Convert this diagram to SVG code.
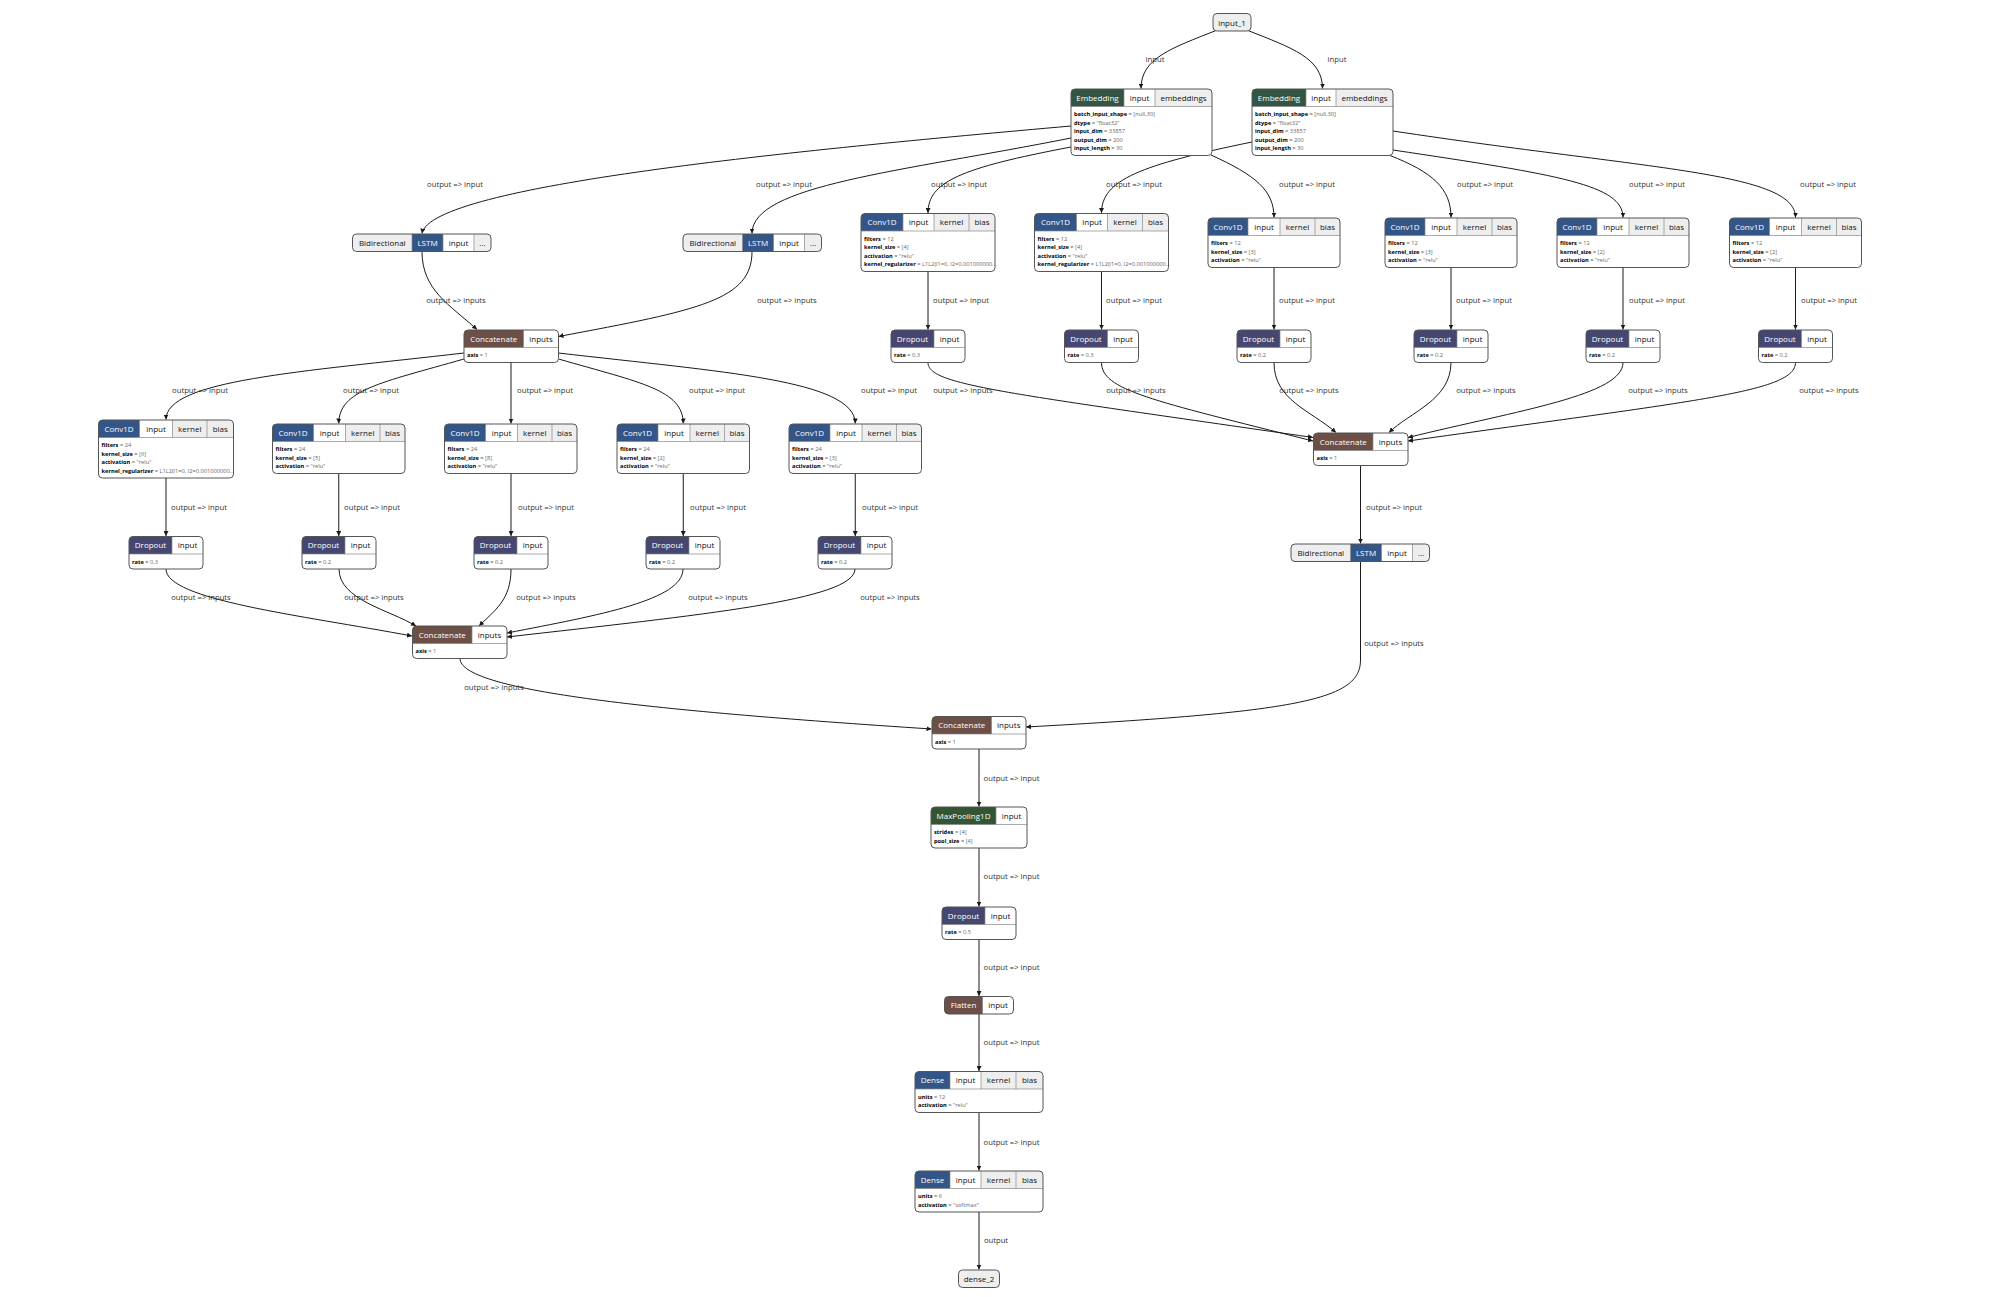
<svg xmlns="http://www.w3.org/2000/svg" width="2000" height="1297" viewBox="0 0 2000 1297">
<defs>
<marker id="ah" viewBox="0 0 10 10" refX="10" refY="5" markerWidth="5" markerHeight="5" markerUnits="userSpaceOnUse" orient="auto">
<path d="M0,0L10,5L0,10Z" fill="#1a1a1a"/>
</marker>
<style>
.e{fill:none;stroke:#1a1a1a;stroke-width:1;marker-end:url(#ah)}
.l{font-family:"Open Sans","Noto Sans",sans-serif;font-size:7.7px;fill:#333;text-anchor:middle}
.bd{fill:#fff}
.ol{fill:none;stroke:#555;stroke-width:1}
.sp{fill:none;stroke:#888;stroke-width:0.7}
.h{font-family:"Open Sans","Noto Sans",sans-serif;font-size:8px;text-anchor:middle;fill:#111}
.hw{fill:#fff}
.gy{fill:#eee}
.lay{fill:#335588}
.dro{fill:#454770}
.ten{fill:#6c4f47}
.emb{fill:#335544}
.pool{fill:#335533}
.a{font-family:"Open Sans","Noto Sans",sans-serif;font-size:5.7px;fill:#000}
.k{font-weight:bold}
.v{fill:#666}
</style>
</defs>
<rect x="0" y="0" width="2000" height="1297" fill="#fff"/>

<g id="edges">
<path class="e" d="M1216,30.5C1172,48 1141,58 1141,88.5"/>
<path class="e" d="M1248,30.5C1292,48 1322.5,58 1322.5,88.5"/>
<path class="e" d="M1071,126C800,150 430,185 422,233.5"/>
<path class="e" d="M1071,138C900,172 752,185 752,233.5"/>
<path class="e" d="M1071,147C960,168 928,182 928,213"/>
<path class="e" d="M1252,142C1140,165 1101.5,180 1101.5,213"/>
<path class="e" d="M1211,155C1255,175 1274,190 1274,217.5"/>
<path class="e" d="M1390,155.5C1432,172 1451,188 1451,217.5"/>
<path class="e" d="M1393,150C1560,175 1623,185 1623,217.5"/>
<path class="e" d="M1393,131C1650,170 1795.5,172 1795.5,217.5"/>
<path class="e" d="M928,271.5V329.5"/>
<path class="e" d="M1101.5,271.5V329.5"/>
<path class="e" d="M1274,267.5V329.5"/>
<path class="e" d="M1451,267.5V329.5"/>
<path class="e" d="M1623,267.5V329.5"/>
<path class="e" d="M1795.5,267.5V329.5"/>
<path class="e" d="M928,362.5C928,385 1000,392 1313,437.5"/>
<path class="e" d="M1101.5,362.5C1101.5,390 1150,400 1313,441"/>
<path class="e" d="M1274,362.5C1274,400 1310,410 1336,432.5"/>
<path class="e" d="M1451,362.5C1451,400 1410,412 1389,432.5"/>
<path class="e" d="M1623,362.5C1623,395 1520,410 1408,437.5"/>
<path class="e" d="M1795.5,362.5C1795.5,392 1700,400 1408,441"/>
<path class="e" d="M1360.5,465.5V543.5"/>
<path class="e" d="M1360.5,561.5V660C1360.5,700 1300,712 1026,727"/>
<path class="e" d="M422,251.5C422,290 450,305 477,329.5"/>
<path class="e" d="M752,251.5C752,300 700,310 558.5,336.5"/>
<path class="e" d="M464,353C300,372 166,380 166,419.5"/>
<path class="e" d="M464,359C380,383 339,390 338.75,423.5"/>
<path class="e" d="M511,362.5V423.5"/>
<path class="e" d="M558.5,359C642,383 683,390 683.25,423.5"/>
<path class="e" d="M558.5,353C722,372 855,380 855.25,423.5"/>
<path class="e" d="M166,478V536"/>
<path class="e" d="M338.75,473.5V536"/>
<path class="e" d="M511,473.5V536"/>
<path class="e" d="M683.25,473.5V536"/>
<path class="e" d="M855.25,473.5V536"/>
<path class="e" d="M166,569C166,600 300,615 412,636"/>
<path class="e" d="M339,569C339,600 390,610 416,626"/>
<path class="e" d="M511,569C511,600 495,610 479,626"/>
<path class="e" d="M683,569C683,600 600,615 507,633"/>
<path class="e" d="M855,569C855,600 700,615 507,637"/>
<path class="e" d="M460,658.5C460,690 640,710 931.5,729"/>
<path class="e" d="M979,749V806.5"/>
<path class="e" d="M979,848V906.5"/>
<path class="e" d="M979,939.5V996"/>
<path class="e" d="M979,1014V1071"/>
<path class="e" d="M979,1112.5V1170.5"/>
<path class="e" d="M979,1212V1269.5"/>
</g>

<g id="edge-labels">
<text class="l" x="1155" y="62">input</text>
<text class="l" x="1337" y="62">input</text>
<text class="l" x="455" y="186.5">output =&gt; input</text>
<text class="l" x="784" y="186.5">output =&gt; input</text>
<text class="l" x="959" y="186.5">output =&gt; input</text>
<text class="l" x="1134" y="186.5">output =&gt; input</text>
<text class="l" x="1307" y="186.5">output =&gt; input</text>
<text class="l" x="1485" y="186.5">output =&gt; input</text>
<text class="l" x="1657" y="186.5">output =&gt; input</text>
<text class="l" x="1828" y="186.5">output =&gt; input</text>
<text class="l" x="456" y="302.5">output =&gt; inputs</text>
<text class="l" x="787" y="302.5">output =&gt; inputs</text>
<text class="l" x="961" y="302.5">output =&gt; input</text>
<text class="l" x="1134" y="302.5">output =&gt; input</text>
<text class="l" x="1307" y="302.5">output =&gt; input</text>
<text class="l" x="1484" y="302.5">output =&gt; input</text>
<text class="l" x="1657" y="302.5">output =&gt; input</text>
<text class="l" x="1829" y="302.5">output =&gt; input</text>
<text class="l" x="963" y="393">output =&gt; inputs</text>
<text class="l" x="1136" y="393">output =&gt; inputs</text>
<text class="l" x="1309" y="393">output =&gt; inputs</text>
<text class="l" x="1486" y="393">output =&gt; inputs</text>
<text class="l" x="1658" y="393">output =&gt; inputs</text>
<text class="l" x="1829" y="393">output =&gt; inputs</text>
<text class="l" x="200" y="393">output =&gt; input</text>
<text class="l" x="371" y="393">output =&gt; input</text>
<text class="l" x="545" y="393">output =&gt; input</text>
<text class="l" x="717" y="393">output =&gt; input</text>
<text class="l" x="889" y="393">output =&gt; input</text>
<text class="l" x="199" y="509.5">output =&gt; input</text>
<text class="l" x="372" y="509.5">output =&gt; input</text>
<text class="l" x="546" y="509.5">output =&gt; input</text>
<text class="l" x="718" y="509.5">output =&gt; input</text>
<text class="l" x="890" y="509.5">output =&gt; input</text>
<text class="l" x="1394" y="509.5">output =&gt; input</text>
<text class="l" x="201" y="600">output =&gt; inputs</text>
<text class="l" x="374" y="600">output =&gt; inputs</text>
<text class="l" x="546" y="600">output =&gt; inputs</text>
<text class="l" x="718" y="600">output =&gt; inputs</text>
<text class="l" x="890" y="600">output =&gt; inputs</text>
<text class="l" x="1394" y="645.5">output =&gt; inputs</text>
<text class="l" x="494" y="690">output =&gt; inputs</text>
<text class="l" x="1011.5" y="780.5">output =&gt; input</text>
<text class="l" x="1011.5" y="879">output =&gt; input</text>
<text class="l" x="1011.5" y="970">output =&gt; input</text>
<text class="l" x="1011.5" y="1045">output =&gt; input</text>
<text class="l" x="1011.5" y="1144.5">output =&gt; input</text>
<text class="l" x="996" y="1243">output</text>
</g>

<g id="input_1">
<rect class="gy" x="1213" y="13.5" width="38" height="17.5" rx="4"/>
<rect class="ol" x="1213" y="13.5" width="38" height="17.5" rx="4"/>
<text class="h" x="1232" y="25.5">input_1</text>
</g>

<g id="embedding_1">
<rect class="bd" x="1071" y="89" width="141" height="66.5" rx="4"/>
<path class="emb" d="M1071,106.5V93Q1071,89 1075,89H1124V106.5Z"/>
<path class="gy" d="M1155,89H1208Q1212,89 1212,93V106.5H1155Z"/>
<path class="sp" d="M1124,89V106.5M1155,89V106.5M1071,106.5H1212"/>
<rect class="ol" x="1071" y="89" width="141" height="66.5" rx="4"/>
<text class="h hw" x="1097.5" y="100.5">Embedding</text>
<text class="h" x="1139.5" y="100.5">input</text>
<text class="h" x="1183.5" y="100.5">embeddings</text>
<text class="a" x="1074" y="116"><tspan class="k">batch_input_shape</tspan><tspan class="v"> = [null,30]</tspan></text>
<text class="a" x="1074" y="124.5"><tspan class="k">dtype</tspan><tspan class="v"> = "float32"</tspan></text>
<text class="a" x="1074" y="133"><tspan class="k">input_dim</tspan><tspan class="v"> = 33857</tspan></text>
<text class="a" x="1074" y="141.5"><tspan class="k">output_dim</tspan><tspan class="v"> = 200</tspan></text>
<text class="a" x="1074" y="150"><tspan class="k">input_length</tspan><tspan class="v"> = 30</tspan></text>
</g>

<g id="embedding_2">
<rect class="bd" x="1252" y="89" width="141" height="66.5" rx="4"/>
<path class="emb" d="M1252,106.5V93Q1252,89 1256,89H1306V106.5Z"/>
<path class="gy" d="M1336,89H1389Q1393,89 1393,93V106.5H1336Z"/>
<path class="sp" d="M1306,89V106.5M1336,89V106.5M1252,106.5H1393"/>
<rect class="ol" x="1252" y="89" width="141" height="66.5" rx="4"/>
<text class="h hw" x="1279" y="100.5">Embedding</text>
<text class="h" x="1321" y="100.5">input</text>
<text class="h" x="1364.5" y="100.5">embeddings</text>
<text class="a" x="1255" y="116"><tspan class="k">batch_input_shape</tspan><tspan class="v"> = [null,30]</tspan></text>
<text class="a" x="1255" y="124.5"><tspan class="k">dtype</tspan><tspan class="v"> = "float32"</tspan></text>
<text class="a" x="1255" y="133"><tspan class="k">input_dim</tspan><tspan class="v"> = 33857</tspan></text>
<text class="a" x="1255" y="141.5"><tspan class="k">output_dim</tspan><tspan class="v"> = 200</tspan></text>
<text class="a" x="1255" y="150"><tspan class="k">input_length</tspan><tspan class="v"> = 30</tspan></text>
</g>

<g id="bidirectional_1">
<rect class="bd" x="352.5" y="234" width="138.5" height="17.5" rx="4"/>
<path class="gy" d="M356.5,251.5Q352.5,251.5 352.5,247.5V238Q352.5,234 356.5,234H412V251.5Z"/>
<rect class="lay" x="412" y="234" width="31" height="17.5"/>
<path class="gy" d="M474,234H487Q491,234 491,238V247.5Q491,251.5 487,251.5H474Z"/>
<path class="sp" d="M412,234V251.5M443,234V251.5M474,234V251.5"/>
<rect class="ol" x="352.5" y="234" width="138.5" height="17.5" rx="4"/>
<text class="h" x="382.25" y="245.5">Bidirectional</text>
<text class="h hw" x="427.5" y="245.5">LSTM</text>
<text class="h" x="458.5" y="245.5">input</text>
<text class="h" x="482.5" y="245.5">...</text>
</g>

<g id="bidirectional_2">
<rect class="bd" x="683" y="234" width="138.5" height="17.5" rx="4"/>
<path class="gy" d="M687,251.5Q683,251.5 683,247.5V238Q683,234 687,234H742.5V251.5Z"/>
<rect class="lay" x="742.5" y="234" width="31" height="17.5"/>
<path class="gy" d="M804.5,234H817.5Q821.5,234 821.5,238V247.5Q821.5,251.5 817.5,251.5H804.5Z"/>
<path class="sp" d="M742.5,234V251.5M773.5,234V251.5M804.5,234V251.5"/>
<rect class="ol" x="683" y="234" width="138.5" height="17.5" rx="4"/>
<text class="h" x="712.75" y="245.5">Bidirectional</text>
<text class="h hw" x="758" y="245.5">LSTM</text>
<text class="h" x="789" y="245.5">input</text>
<text class="h" x="813" y="245.5">...</text>
</g>

<g id="bidirectional_3">
<rect class="bd" x="1291" y="544" width="138.5" height="17.5" rx="4"/>
<path class="gy" d="M1295,561.5Q1291,561.5 1291,557.5V548Q1291,544 1295,544H1350.5V561.5Z"/>
<rect class="lay" x="1350.5" y="544" width="31" height="17.5"/>
<path class="gy" d="M1412.5,544H1425.5Q1429.5,544 1429.5,548V557.5Q1429.5,561.5 1425.5,561.5H1412.5Z"/>
<path class="sp" d="M1350.5,544V561.5M1381.5,544V561.5M1412.5,544V561.5"/>
<rect class="ol" x="1291" y="544" width="138.5" height="17.5" rx="4"/>
<text class="h" x="1320.75" y="555.5">Bidirectional</text>
<text class="h hw" x="1366" y="555.5">LSTM</text>
<text class="h" x="1397" y="555.5">input</text>
<text class="h" x="1421" y="555.5">...</text>
</g>

<g id="concatenate_1">
<rect class="bd" x="464" y="330" width="94.5" height="32.5" rx="4"/>
<path class="ten" d="M464,347.5V334Q464,330 468,330H523.5V347.5Z"/>
<path class="sp" d="M523.5,330V347.5M464,347.5H558.5"/>
<rect class="ol" x="464" y="330" width="94.5" height="32.5" rx="4"/>
<text class="h hw" x="493.75" y="341.5">Concatenate</text>
<text class="h" x="541" y="341.5">inputs</text>
<text class="a" x="467" y="357"><tspan class="k">axis</tspan><tspan class="v"> = 1</tspan></text>
</g>

<g id="concatenate_2">
<rect class="bd" x="1313.5" y="433" width="94.5" height="32.5" rx="4"/>
<path class="ten" d="M1313.5,450.5V437Q1313.5,433 1317.5,433H1373V450.5Z"/>
<path class="sp" d="M1373,433V450.5M1313.5,450.5H1408"/>
<rect class="ol" x="1313.5" y="433" width="94.5" height="32.5" rx="4"/>
<text class="h hw" x="1343.25" y="444.5">Concatenate</text>
<text class="h" x="1390.5" y="444.5">inputs</text>
<text class="a" x="1316.5" y="460"><tspan class="k">axis</tspan><tspan class="v"> = 1</tspan></text>
</g>

<g id="concatenate_3">
<rect class="bd" x="412.5" y="626" width="94.5" height="32.5" rx="4"/>
<path class="ten" d="M412.5,643.5V630Q412.5,626 416.5,626H472V643.5Z"/>
<path class="sp" d="M472,626V643.5M412.5,643.5H507"/>
<rect class="ol" x="412.5" y="626" width="94.5" height="32.5" rx="4"/>
<text class="h hw" x="442.25" y="637.5">Concatenate</text>
<text class="h" x="489.5" y="637.5">inputs</text>
<text class="a" x="415.5" y="653"><tspan class="k">axis</tspan><tspan class="v"> = 1</tspan></text>
</g>

<g id="concatenate_4">
<rect class="bd" x="932" y="716.5" width="94" height="32.5" rx="4"/>
<path class="ten" d="M932,734V720.5Q932,716.5 936,716.5H991.5V734Z"/>
<path class="sp" d="M991.5,716.5V734M932,734H1026"/>
<rect class="ol" x="932" y="716.5" width="94" height="32.5" rx="4"/>
<text class="h hw" x="961.75" y="728">Concatenate</text>
<text class="h" x="1008.75" y="728">inputs</text>
<text class="a" x="935" y="743.5"><tspan class="k">axis</tspan><tspan class="v"> = 1</tspan></text>
</g>

<g id="conv1d_a">
<rect class="bd" x="861" y="213.5" width="134" height="58" rx="4"/>
<path class="lay" d="M861,231V217.5Q861,213.5 865,213.5H903V231Z"/>
<rect class="gy" x="934" y="213.5" width="35" height="17.5"/>
<path class="gy" d="M969,213.5H991Q995,213.5 995,217.5V231H969Z"/>
<path class="sp" d="M903,213.5V231M934,213.5V231M969,213.5V231M861,231H995"/>
<rect class="ol" x="861" y="213.5" width="134" height="58" rx="4"/>
<text class="h hw" x="882" y="225">Conv1D</text>
<text class="h" x="918.5" y="225">input</text>
<text class="h" x="951.5" y="225">kernel</text>
<text class="h" x="982" y="225">bias</text>
<text class="a" x="864" y="240.5"><tspan class="k">filters</tspan><tspan class="v"> = 12</tspan></text>
<text class="a" x="864" y="249"><tspan class="k">kernel_size</tspan><tspan class="v"> = [4]</tspan></text>
<text class="a" x="864" y="257.5"><tspan class="k">activation</tspan><tspan class="v"> = "relu"</tspan></text>
<text class="a" x="864" y="266"><tspan class="k">kernel_regularizer</tspan><tspan class="v"> = L1L2(l1=0, l2=0.001000000...</tspan></text>
</g>

<g id="conv1d_b">
<rect class="bd" x="1034.5" y="213.5" width="134" height="58" rx="4"/>
<path class="lay" d="M1034.5,231V217.5Q1034.5,213.5 1038.5,213.5H1076.5V231Z"/>
<rect class="gy" x="1107.5" y="213.5" width="35" height="17.5"/>
<path class="gy" d="M1142.5,213.5H1164.5Q1168.5,213.5 1168.5,217.5V231H1142.5Z"/>
<path class="sp" d="M1076.5,213.5V231M1107.5,213.5V231M1142.5,213.5V231M1034.5,231H1168.5"/>
<rect class="ol" x="1034.5" y="213.5" width="134" height="58" rx="4"/>
<text class="h hw" x="1055.5" y="225">Conv1D</text>
<text class="h" x="1092" y="225">input</text>
<text class="h" x="1125" y="225">kernel</text>
<text class="h" x="1155.5" y="225">bias</text>
<text class="a" x="1037.5" y="240.5"><tspan class="k">filters</tspan><tspan class="v"> = 12</tspan></text>
<text class="a" x="1037.5" y="249"><tspan class="k">kernel_size</tspan><tspan class="v"> = [4]</tspan></text>
<text class="a" x="1037.5" y="257.5"><tspan class="k">activation</tspan><tspan class="v"> = "relu"</tspan></text>
<text class="a" x="1037.5" y="266"><tspan class="k">kernel_regularizer</tspan><tspan class="v"> = L1L2(l1=0, l2=0.001000000...</tspan></text>
</g>

<g id="conv1d_c">
<rect class="bd" x="1208" y="218" width="132" height="49.5" rx="4"/>
<path class="lay" d="M1208,235.5V222Q1208,218 1212,218H1248V235.5Z"/>
<rect class="gy" x="1280" y="218" width="35" height="17.5"/>
<path class="gy" d="M1315,218H1336Q1340,218 1340,222V235.5H1315Z"/>
<path class="sp" d="M1248,218V235.5M1280,218V235.5M1315,218V235.5M1208,235.5H1340"/>
<rect class="ol" x="1208" y="218" width="132" height="49.5" rx="4"/>
<text class="h hw" x="1228" y="229.5">Conv1D</text>
<text class="h" x="1264" y="229.5">input</text>
<text class="h" x="1297.5" y="229.5">kernel</text>
<text class="h" x="1327.5" y="229.5">bias</text>
<text class="a" x="1211" y="245"><tspan class="k">filters</tspan><tspan class="v"> = 12</tspan></text>
<text class="a" x="1211" y="253.5"><tspan class="k">kernel_size</tspan><tspan class="v"> = [3]</tspan></text>
<text class="a" x="1211" y="262"><tspan class="k">activation</tspan><tspan class="v"> = "relu"</tspan></text>
</g>

<g id="conv1d_d">
<rect class="bd" x="1385" y="218" width="132" height="49.5" rx="4"/>
<path class="lay" d="M1385,235.5V222Q1385,218 1389,218H1425V235.5Z"/>
<rect class="gy" x="1457" y="218" width="35" height="17.5"/>
<path class="gy" d="M1492,218H1513Q1517,218 1517,222V235.5H1492Z"/>
<path class="sp" d="M1425,218V235.5M1457,218V235.5M1492,218V235.5M1385,235.5H1517"/>
<rect class="ol" x="1385" y="218" width="132" height="49.5" rx="4"/>
<text class="h hw" x="1405" y="229.5">Conv1D</text>
<text class="h" x="1441" y="229.5">input</text>
<text class="h" x="1474.5" y="229.5">kernel</text>
<text class="h" x="1504.5" y="229.5">bias</text>
<text class="a" x="1388" y="245"><tspan class="k">filters</tspan><tspan class="v"> = 12</tspan></text>
<text class="a" x="1388" y="253.5"><tspan class="k">kernel_size</tspan><tspan class="v"> = [3]</tspan></text>
<text class="a" x="1388" y="262"><tspan class="k">activation</tspan><tspan class="v"> = "relu"</tspan></text>
</g>

<g id="conv1d_e">
<rect class="bd" x="1557" y="218" width="132" height="49.5" rx="4"/>
<path class="lay" d="M1557,235.5V222Q1557,218 1561,218H1597V235.5Z"/>
<rect class="gy" x="1629" y="218" width="35" height="17.5"/>
<path class="gy" d="M1664,218H1685Q1689,218 1689,222V235.5H1664Z"/>
<path class="sp" d="M1597,218V235.5M1629,218V235.5M1664,218V235.5M1557,235.5H1689"/>
<rect class="ol" x="1557" y="218" width="132" height="49.5" rx="4"/>
<text class="h hw" x="1577" y="229.5">Conv1D</text>
<text class="h" x="1613" y="229.5">input</text>
<text class="h" x="1646.5" y="229.5">kernel</text>
<text class="h" x="1676.5" y="229.5">bias</text>
<text class="a" x="1560" y="245"><tspan class="k">filters</tspan><tspan class="v"> = 12</tspan></text>
<text class="a" x="1560" y="253.5"><tspan class="k">kernel_size</tspan><tspan class="v"> = [2]</tspan></text>
<text class="a" x="1560" y="262"><tspan class="k">activation</tspan><tspan class="v"> = "relu"</tspan></text>
</g>

<g id="conv1d_f">
<rect class="bd" x="1729.5" y="218" width="132" height="49.5" rx="4"/>
<path class="lay" d="M1729.5,235.5V222Q1729.5,218 1733.5,218H1769.5V235.5Z"/>
<rect class="gy" x="1801.5" y="218" width="35" height="17.5"/>
<path class="gy" d="M1836.5,218H1857.5Q1861.5,218 1861.5,222V235.5H1836.5Z"/>
<path class="sp" d="M1769.5,218V235.5M1801.5,218V235.5M1836.5,218V235.5M1729.5,235.5H1861.5"/>
<rect class="ol" x="1729.5" y="218" width="132" height="49.5" rx="4"/>
<text class="h hw" x="1749.5" y="229.5">Conv1D</text>
<text class="h" x="1785.5" y="229.5">input</text>
<text class="h" x="1819" y="229.5">kernel</text>
<text class="h" x="1849" y="229.5">bias</text>
<text class="a" x="1732.5" y="245"><tspan class="k">filters</tspan><tspan class="v"> = 12</tspan></text>
<text class="a" x="1732.5" y="253.5"><tspan class="k">kernel_size</tspan><tspan class="v"> = [2]</tspan></text>
<text class="a" x="1732.5" y="262"><tspan class="k">activation</tspan><tspan class="v"> = "relu"</tspan></text>
</g>

<g id="conv1d_g">
<rect class="bd" x="98.5" y="420" width="135" height="58" rx="4"/>
<path class="lay" d="M98.5,437.5V424Q98.5,420 102.5,420H139.5V437.5Z"/>
<rect class="gy" x="172.5" y="420" width="34.5" height="17.5"/>
<path class="gy" d="M207,420H229.5Q233.5,420 233.5,424V437.5H207Z"/>
<path class="sp" d="M139.5,420V437.5M172.5,420V437.5M207,420V437.5M98.5,437.5H233.5"/>
<rect class="ol" x="98.5" y="420" width="135" height="58" rx="4"/>
<text class="h hw" x="119" y="431.5">Conv1D</text>
<text class="h" x="156" y="431.5">input</text>
<text class="h" x="189.75" y="431.5">kernel</text>
<text class="h" x="220.25" y="431.5">bias</text>
<text class="a" x="101.5" y="447"><tspan class="k">filters</tspan><tspan class="v"> = 24</tspan></text>
<text class="a" x="101.5" y="455.5"><tspan class="k">kernel_size</tspan><tspan class="v"> = [6]</tspan></text>
<text class="a" x="101.5" y="464"><tspan class="k">activation</tspan><tspan class="v"> = "relu"</tspan></text>
<text class="a" x="101.5" y="472.5"><tspan class="k">kernel_regularizer</tspan><tspan class="v"> = L1L2(l1=0, l2=0.001000000...</tspan></text>
</g>

<g id="conv1d_h">
<rect class="bd" x="272.5" y="424" width="132.5" height="49.5" rx="4"/>
<path class="lay" d="M272.5,441.5V428Q272.5,424 276.5,424H313.5V441.5Z"/>
<rect class="gy" x="345.5" y="424" width="34.5" height="17.5"/>
<path class="gy" d="M380,424H401Q405,424 405,428V441.5H380Z"/>
<path class="sp" d="M313.5,424V441.5M345.5,424V441.5M380,424V441.5M272.5,441.5H405"/>
<rect class="ol" x="272.5" y="424" width="132.5" height="49.5" rx="4"/>
<text class="h hw" x="293" y="435.5">Conv1D</text>
<text class="h" x="329.5" y="435.5">input</text>
<text class="h" x="362.75" y="435.5">kernel</text>
<text class="h" x="392.5" y="435.5">bias</text>
<text class="a" x="275.5" y="451"><tspan class="k">filters</tspan><tspan class="v"> = 24</tspan></text>
<text class="a" x="275.5" y="459.5"><tspan class="k">kernel_size</tspan><tspan class="v"> = [5]</tspan></text>
<text class="a" x="275.5" y="468"><tspan class="k">activation</tspan><tspan class="v"> = "relu"</tspan></text>
</g>

<g id="conv1d_i">
<rect class="bd" x="444.5" y="424" width="132.5" height="49.5" rx="4"/>
<path class="lay" d="M444.5,441.5V428Q444.5,424 448.5,424H485.5V441.5Z"/>
<rect class="gy" x="517.5" y="424" width="34.5" height="17.5"/>
<path class="gy" d="M552,424H573Q577,424 577,428V441.5H552Z"/>
<path class="sp" d="M485.5,424V441.5M517.5,424V441.5M552,424V441.5M444.5,441.5H577"/>
<rect class="ol" x="444.5" y="424" width="132.5" height="49.5" rx="4"/>
<text class="h hw" x="465" y="435.5">Conv1D</text>
<text class="h" x="501.5" y="435.5">input</text>
<text class="h" x="534.75" y="435.5">kernel</text>
<text class="h" x="564.5" y="435.5">bias</text>
<text class="a" x="447.5" y="451"><tspan class="k">filters</tspan><tspan class="v"> = 24</tspan></text>
<text class="a" x="447.5" y="459.5"><tspan class="k">kernel_size</tspan><tspan class="v"> = [8]</tspan></text>
<text class="a" x="447.5" y="468"><tspan class="k">activation</tspan><tspan class="v"> = "relu"</tspan></text>
</g>

<g id="conv1d_j">
<rect class="bd" x="617" y="424" width="132.5" height="49.5" rx="4"/>
<path class="lay" d="M617,441.5V428Q617,424 621,424H658V441.5Z"/>
<rect class="gy" x="690" y="424" width="34.5" height="17.5"/>
<path class="gy" d="M724.5,424H745.5Q749.5,424 749.5,428V441.5H724.5Z"/>
<path class="sp" d="M658,424V441.5M690,424V441.5M724.5,424V441.5M617,441.5H749.5"/>
<rect class="ol" x="617" y="424" width="132.5" height="49.5" rx="4"/>
<text class="h hw" x="637.5" y="435.5">Conv1D</text>
<text class="h" x="674" y="435.5">input</text>
<text class="h" x="707.25" y="435.5">kernel</text>
<text class="h" x="737" y="435.5">bias</text>
<text class="a" x="620" y="451"><tspan class="k">filters</tspan><tspan class="v"> = 24</tspan></text>
<text class="a" x="620" y="459.5"><tspan class="k">kernel_size</tspan><tspan class="v"> = [2]</tspan></text>
<text class="a" x="620" y="468"><tspan class="k">activation</tspan><tspan class="v"> = "relu"</tspan></text>
</g>

<g id="conv1d_k">
<rect class="bd" x="789" y="424" width="132.5" height="49.5" rx="4"/>
<path class="lay" d="M789,441.5V428Q789,424 793,424H830V441.5Z"/>
<rect class="gy" x="862" y="424" width="34.5" height="17.5"/>
<path class="gy" d="M896.5,424H917.5Q921.5,424 921.5,428V441.5H896.5Z"/>
<path class="sp" d="M830,424V441.5M862,424V441.5M896.5,424V441.5M789,441.5H921.5"/>
<rect class="ol" x="789" y="424" width="132.5" height="49.5" rx="4"/>
<text class="h hw" x="809.5" y="435.5">Conv1D</text>
<text class="h" x="846" y="435.5">input</text>
<text class="h" x="879.25" y="435.5">kernel</text>
<text class="h" x="909" y="435.5">bias</text>
<text class="a" x="792" y="451"><tspan class="k">filters</tspan><tspan class="v"> = 24</tspan></text>
<text class="a" x="792" y="459.5"><tspan class="k">kernel_size</tspan><tspan class="v"> = [3]</tspan></text>
<text class="a" x="792" y="468"><tspan class="k">activation</tspan><tspan class="v"> = "relu"</tspan></text>
</g>

<g id="dropout_a">
<rect class="bd" x="891" y="330" width="74" height="32.5" rx="4"/>
<path class="dro" d="M891,347.5V334Q891,330 895,330H934V347.5Z"/>
<path class="sp" d="M934,330V347.5M891,347.5H965"/>
<rect class="ol" x="891" y="330" width="74" height="32.5" rx="4"/>
<text class="h hw" x="912.5" y="341.5">Dropout</text>
<text class="h" x="949.5" y="341.5">input</text>
<text class="a" x="894" y="357"><tspan class="k">rate</tspan><tspan class="v"> = 0.3</tspan></text>
</g>

<g id="dropout_b">
<rect class="bd" x="1064.5" y="330" width="74" height="32.5" rx="4"/>
<path class="dro" d="M1064.5,347.5V334Q1064.5,330 1068.5,330H1107.5V347.5Z"/>
<path class="sp" d="M1107.5,330V347.5M1064.5,347.5H1138.5"/>
<rect class="ol" x="1064.5" y="330" width="74" height="32.5" rx="4"/>
<text class="h hw" x="1086" y="341.5">Dropout</text>
<text class="h" x="1123" y="341.5">input</text>
<text class="a" x="1067.5" y="357"><tspan class="k">rate</tspan><tspan class="v"> = 0.3</tspan></text>
</g>

<g id="dropout_c">
<rect class="bd" x="1237" y="330" width="74" height="32.5" rx="4"/>
<path class="dro" d="M1237,347.5V334Q1237,330 1241,330H1280V347.5Z"/>
<path class="sp" d="M1280,330V347.5M1237,347.5H1311"/>
<rect class="ol" x="1237" y="330" width="74" height="32.5" rx="4"/>
<text class="h hw" x="1258.5" y="341.5">Dropout</text>
<text class="h" x="1295.5" y="341.5">input</text>
<text class="a" x="1240" y="357"><tspan class="k">rate</tspan><tspan class="v"> = 0.2</tspan></text>
</g>

<g id="dropout_d">
<rect class="bd" x="1414" y="330" width="74" height="32.5" rx="4"/>
<path class="dro" d="M1414,347.5V334Q1414,330 1418,330H1457V347.5Z"/>
<path class="sp" d="M1457,330V347.5M1414,347.5H1488"/>
<rect class="ol" x="1414" y="330" width="74" height="32.5" rx="4"/>
<text class="h hw" x="1435.5" y="341.5">Dropout</text>
<text class="h" x="1472.5" y="341.5">input</text>
<text class="a" x="1417" y="357"><tspan class="k">rate</tspan><tspan class="v"> = 0.2</tspan></text>
</g>

<g id="dropout_e">
<rect class="bd" x="1586" y="330" width="74" height="32.5" rx="4"/>
<path class="dro" d="M1586,347.5V334Q1586,330 1590,330H1629V347.5Z"/>
<path class="sp" d="M1629,330V347.5M1586,347.5H1660"/>
<rect class="ol" x="1586" y="330" width="74" height="32.5" rx="4"/>
<text class="h hw" x="1607.5" y="341.5">Dropout</text>
<text class="h" x="1644.5" y="341.5">input</text>
<text class="a" x="1589" y="357"><tspan class="k">rate</tspan><tspan class="v"> = 0.2</tspan></text>
</g>

<g id="dropout_f">
<rect class="bd" x="1758.5" y="330" width="74" height="32.5" rx="4"/>
<path class="dro" d="M1758.5,347.5V334Q1758.5,330 1762.5,330H1801.5V347.5Z"/>
<path class="sp" d="M1801.5,330V347.5M1758.5,347.5H1832.5"/>
<rect class="ol" x="1758.5" y="330" width="74" height="32.5" rx="4"/>
<text class="h hw" x="1780" y="341.5">Dropout</text>
<text class="h" x="1817" y="341.5">input</text>
<text class="a" x="1761.5" y="357"><tspan class="k">rate</tspan><tspan class="v"> = 0.2</tspan></text>
</g>

<g id="dropout_g">
<rect class="bd" x="129" y="536.5" width="74" height="32.5" rx="4"/>
<path class="dro" d="M129,554V540.5Q129,536.5 133,536.5H172V554Z"/>
<path class="sp" d="M172,536.5V554M129,554H203"/>
<rect class="ol" x="129" y="536.5" width="74" height="32.5" rx="4"/>
<text class="h hw" x="150.5" y="548">Dropout</text>
<text class="h" x="187.5" y="548">input</text>
<text class="a" x="132" y="563.5"><tspan class="k">rate</tspan><tspan class="v"> = 0.3</tspan></text>
</g>

<g id="dropout_h">
<rect class="bd" x="302" y="536.5" width="74" height="32.5" rx="4"/>
<path class="dro" d="M302,554V540.5Q302,536.5 306,536.5H345V554Z"/>
<path class="sp" d="M345,536.5V554M302,554H376"/>
<rect class="ol" x="302" y="536.5" width="74" height="32.5" rx="4"/>
<text class="h hw" x="323.5" y="548">Dropout</text>
<text class="h" x="360.5" y="548">input</text>
<text class="a" x="305" y="563.5"><tspan class="k">rate</tspan><tspan class="v"> = 0.2</tspan></text>
</g>

<g id="dropout_i">
<rect class="bd" x="474" y="536.5" width="74" height="32.5" rx="4"/>
<path class="dro" d="M474,554V540.5Q474,536.5 478,536.5H517V554Z"/>
<path class="sp" d="M517,536.5V554M474,554H548"/>
<rect class="ol" x="474" y="536.5" width="74" height="32.5" rx="4"/>
<text class="h hw" x="495.5" y="548">Dropout</text>
<text class="h" x="532.5" y="548">input</text>
<text class="a" x="477" y="563.5"><tspan class="k">rate</tspan><tspan class="v"> = 0.2</tspan></text>
</g>

<g id="dropout_j">
<rect class="bd" x="646" y="536.5" width="74" height="32.5" rx="4"/>
<path class="dro" d="M646,554V540.5Q646,536.5 650,536.5H689V554Z"/>
<path class="sp" d="M689,536.5V554M646,554H720"/>
<rect class="ol" x="646" y="536.5" width="74" height="32.5" rx="4"/>
<text class="h hw" x="667.5" y="548">Dropout</text>
<text class="h" x="704.5" y="548">input</text>
<text class="a" x="649" y="563.5"><tspan class="k">rate</tspan><tspan class="v"> = 0.2</tspan></text>
</g>

<g id="dropout_k">
<rect class="bd" x="818" y="536.5" width="74" height="32.5" rx="4"/>
<path class="dro" d="M818,554V540.5Q818,536.5 822,536.5H861V554Z"/>
<path class="sp" d="M861,536.5V554M818,554H892"/>
<rect class="ol" x="818" y="536.5" width="74" height="32.5" rx="4"/>
<text class="h hw" x="839.5" y="548">Dropout</text>
<text class="h" x="876.5" y="548">input</text>
<text class="a" x="821" y="563.5"><tspan class="k">rate</tspan><tspan class="v"> = 0.2</tspan></text>
</g>

<g id="max_pooling1d">
<rect class="bd" x="931" y="807" width="96" height="41" rx="4"/>
<path class="pool" d="M931,824.5V811Q931,807 935,807H996V824.5Z"/>
<path class="sp" d="M996,807V824.5M931,824.5H1027"/>
<rect class="ol" x="931" y="807" width="96" height="41" rx="4"/>
<text class="h hw" x="963.5" y="818.5">MaxPooling1D</text>
<text class="h" x="1011.5" y="818.5">input</text>
<text class="a" x="934" y="834"><tspan class="k">strides</tspan><tspan class="v"> = [4]</tspan></text>
<text class="a" x="934" y="842.5"><tspan class="k">pool_size</tspan><tspan class="v"> = [4]</tspan></text>
</g>

<g id="dropout_center">
<rect class="bd" x="942" y="907" width="74" height="32.5" rx="4"/>
<path class="dro" d="M942,924.5V911Q942,907 946,907H985V924.5Z"/>
<path class="sp" d="M985,907V924.5M942,924.5H1016"/>
<rect class="ol" x="942" y="907" width="74" height="32.5" rx="4"/>
<text class="h hw" x="963.5" y="918.5">Dropout</text>
<text class="h" x="1000.5" y="918.5">input</text>
<text class="a" x="945" y="934"><tspan class="k">rate</tspan><tspan class="v"> = 0.5</tspan></text>
</g>

<g id="flatten">
<rect class="bd" x="944.5" y="996.5" width="69" height="17.5" rx="4"/>
<path class="ten" d="M948.5,1014Q944.5,1014 944.5,1010V1000.5Q944.5,996.5 948.5,996.5H982.5V1014Z"/>
<path class="sp" d="M982.5,996.5V1014"/>
<rect class="ol" x="944.5" y="996.5" width="69" height="17.5" rx="4"/>
<text class="h hw" x="963.5" y="1008">Flatten</text>
<text class="h" x="998" y="1008">input</text>
</g>

<g id="dense_1">
<rect class="bd" x="915" y="1071.5" width="128" height="41" rx="4"/>
<path class="lay" d="M915,1089V1075.5Q915,1071.5 919,1071.5H950V1089Z"/>
<rect class="gy" x="981" y="1071.5" width="35" height="17.5"/>
<path class="gy" d="M1016,1071.5H1039Q1043,1071.5 1043,1075.5V1089H1016Z"/>
<path class="sp" d="M950,1071.5V1089M981,1071.5V1089M1016,1071.5V1089M915,1089H1043"/>
<rect class="ol" x="915" y="1071.5" width="128" height="41" rx="4"/>
<text class="h hw" x="932.5" y="1083">Dense</text>
<text class="h" x="965.5" y="1083">input</text>
<text class="h" x="998.5" y="1083">kernel</text>
<text class="h" x="1029.5" y="1083">bias</text>
<text class="a" x="918" y="1098.5"><tspan class="k">units</tspan><tspan class="v"> = 12</tspan></text>
<text class="a" x="918" y="1107"><tspan class="k">activation</tspan><tspan class="v"> = "relu"</tspan></text>
</g>

<g id="dense_2_layer">
<rect class="bd" x="915" y="1171" width="128" height="41" rx="4"/>
<path class="lay" d="M915,1188.5V1175Q915,1171 919,1171H950V1188.5Z"/>
<rect class="gy" x="981" y="1171" width="35" height="17.5"/>
<path class="gy" d="M1016,1171H1039Q1043,1171 1043,1175V1188.5H1016Z"/>
<path class="sp" d="M950,1171V1188.5M981,1171V1188.5M1016,1171V1188.5M915,1188.5H1043"/>
<rect class="ol" x="915" y="1171" width="128" height="41" rx="4"/>
<text class="h hw" x="932.5" y="1182.5">Dense</text>
<text class="h" x="965.5" y="1182.5">input</text>
<text class="h" x="998.5" y="1182.5">kernel</text>
<text class="h" x="1029.5" y="1182.5">bias</text>
<text class="a" x="918" y="1198"><tspan class="k">units</tspan><tspan class="v"> = 6</tspan></text>
<text class="a" x="918" y="1206.5"><tspan class="k">activation</tspan><tspan class="v"> = "softmax"</tspan></text>
</g>

<g id="dense_2">
<rect class="gy" x="958.5" y="1270" width="41" height="17.5" rx="4"/>
<rect class="ol" x="958.5" y="1270" width="41" height="17.5" rx="4"/>
<text class="h" x="979" y="1281.5">dense_2</text>
</g>
</svg>
